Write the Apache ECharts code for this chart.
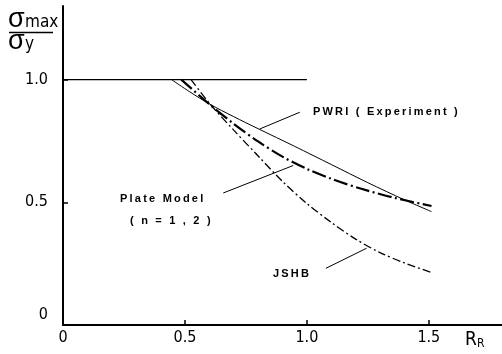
<!DOCTYPE html>
<html>
<head>
<meta charset="utf-8">
<script src="https://cdn.jsdelivr.net/npm/echarts@6/dist/echarts.min.js"></script>
<style>
  html, body { margin: 0; padding: 0; background: #fff; }
  #chart { width: 502px; height: 354px; }
</style>
</head>
<body>
<div id="chart"></div>
<script>
// Normalised maximum stress sigma_max / sigma_y against the parameter R_R.

// Tick labels
const xTickLabels = ['0', '0.5', '1.0', '1.5'];
const yTickLabels = ['0', '0.5', '1.0'];

// Plateau at sigma_max / sigma_y = 1
const plateauX = [0, 1.0];
const plateauY = [1.0, 1.0];

// PWRI (Experiment)
const pwriX = [0.445, 0.52, 0.60, 0.70, 0.80, 0.95, 1.10, 1.25, 1.40, 1.511];
const pwriY = [1.000, 0.950, 0.901, 0.849, 0.800, 0.728, 0.654, 0.580, 0.510, 0.462];

// Plate Model (n = 1, 2)
const plateX = [0.485, 0.60, 0.70, 0.80, 0.90, 1.00, 1.10, 1.22, 1.36, 1.511];
const plateY = [1.000, 0.900, 0.820, 0.748, 0.686, 0.636, 0.596, 0.556, 0.518, 0.485];

// JSHB
const jshbX = [0.525, 0.60, 0.70, 0.80, 0.90, 1.00, 1.10, 1.20, 1.30, 1.40, 1.511];
const jshbY = [1.000, 0.904, 0.794, 0.689, 0.585, 0.495, 0.418, 0.350, 0.295, 0.253, 0.214];

// Callout labels, anchored in data units: text position, leader start, leader tip
const callouts = [
  { lines: ['PWRI ( Experiment )'], at: [1.025, 0.869], from: [0.971, 0.867], to: [0.807, 0.799] },
  { lines: ['Plate Model', '( n = 1 , 2 )'], at: [0.234, 0.514], indent: [0, 10], gap: 22, from: [0.657, 0.538], to: [0.944, 0.650] },
  { lines: ['JSHB'], at: [0.861, 0.210], from: [1.078, 0.231], to: [1.245, 0.313] }
];

const FONT = '"Liberation Sans Narrow", "DejaVu Sans Condensed", "Liberation Sans", sans-serif';
const LABEL_FONT = '"Liberation Sans", Arial, sans-serif';

const zip = (xs, ys) => xs.map((x, i) => [x, ys[i]]);
// spread letters apart with thin spaces
const spaced = s => s.split('').join('\u2009');

const chart = echarts.init(document.getElementById('chart'), null, { renderer: 'canvas' });

const lineSeries = (name, xs, ys, style, smooth) => ({
  name,
  type: 'line',
  data: zip(xs, ys),
  showSymbol: false,
  symbol: 'none',
  smooth: smooth,
  silent: true,
  animation: false,
  lineStyle: Object.assign({ color: '#000', cap: 'butt' }, style)
});

chart.setOption({
  animation: false,
  backgroundColor: '#fff',
  grid: { left: 63, right: 0, top: 6, bottom: 29, outerBoundsMode: 'none', containLabel: false },
  xAxis: {
    type: 'value',
    min: 0,
    max: 1.8,
    interval: 0.5,
    axisLine: { show: true, lineStyle: { color: '#000', width: 2 } },
    axisTick: { show: true, inside: true, length: 5, lineStyle: { color: '#000', width: 1.5 } },
    splitLine: { show: false },
    axisLabel: {
      color: '#000',
      fontFamily: FONT,
      fontSize: 16,
      margin: 5,
      showMaxLabel: false,
      formatter: v => {
        const i = Math.round(v / 0.5);
        return Math.abs(v - i * 0.5) < 1e-6 && i < xTickLabels.length ? xTickLabels[i] : '';
      }
    }
  },
  yAxis: {
    type: 'value',
    min: 0,
    max: 1.3,
    interval: 0.5,
    axisLine: { show: true, lineStyle: { color: '#000', width: 2 } },
    axisTick: { show: true, inside: true, length: 5, lineStyle: { color: '#000', width: 1.5 } },
    splitLine: { show: false },
    axisLabel: {
      color: '#000',
      fontFamily: FONT,
      fontSize: 16,
      margin: 15,
      showMaxLabel: false,
      formatter: v => {
        const i = Math.round(v / 0.5);
        if (i >= yTickLabels.length || Math.abs(v - i * 0.5) > 1e-6) return '';
        return i === 0 ? '{z|' + yTickLabels[0] + '}' : yTickLabels[i];
      },
      rich: { z: { fontFamily: FONT, fontSize: 16, color: '#000', padding: [0, 0, 20, 0] } }
    }
  },
  series: [
    lineSeries('plateau', plateauX, plateauY, { width: 1.2, type: 'solid' }, false),
    lineSeries('PWRI (Experiment)', pwriX, pwriY, { width: 1, type: 'solid' }, 0.3),
    lineSeries('Plate Model (n = 1, 2)', plateX, plateY, { width: 2.2, type: [14, 3.5, 2, 3.5] }, 0.3),
    lineSeries('JSHB', jshbX, jshbY, { width: 1.3, type: [8, 3, 2, 3] }, 0.3)
  ]
});

// Axis titles and callouts
function drawLabels() {
  const px = p => chart.convertToPixel({ gridIndex: 0 }, p);
  const elements = [];

  // y-axis title: sigma_max over sigma_y
  const sig = { fill: '#000', font: '27px ' + LABEL_FONT, textVerticalAlign: 'bottom' };
  const sub = { fill: '#000', font: '17px ' + FONT, textVerticalAlign: 'bottom' };
  elements.push({ type: 'text', x: 8, y: 33, style: Object.assign({ text: 'σ' }, sig), silent: true });
  elements.push({ type: 'text', x: 25, y: 31, style: Object.assign({ text: 'max' }, sub), silent: true });
  elements.push({ type: 'line', shape: { x1: 9, y1: 32.5, x2: 53, y2: 32.5 }, style: { stroke: '#000', lineWidth: 1.5 }, silent: true });
  elements.push({ type: 'text', x: 8, y: 55, style: Object.assign({ text: 'σ' }, sig), silent: true });
  elements.push({ type: 'text', x: 25, y: 53, style: Object.assign({ text: 'y' }, sub), silent: true });

  // x-axis title: R_R
  elements.push({ type: 'text', x: 465, y: 350, style: { text: 'R', fill: '#000', font: '19px ' + FONT, textVerticalAlign: 'bottom' }, silent: true });
  elements.push({ type: 'text', x: 477, y: 350, style: { text: 'R', fill: '#000', font: '12px ' + FONT, textVerticalAlign: 'bottom' }, silent: true });

  callouts.forEach(c => {
    const a = px(c.at);
    c.lines.forEach((t, k) => {
      elements.push({
        type: 'text',
        x: a[0] + (c.indent ? c.indent[k] : 0),
        y: a[1] + k * (c.gap || 0),
        style: { text: spaced(t), fill: '#000', font: 'bold 11px ' + LABEL_FONT, textVerticalAlign: 'middle' },
        silent: true
      });
    });
    const f = px(c.from), t = px(c.to);
    elements.push({ type: 'line', shape: { x1: f[0], y1: f[1], x2: t[0], y2: t[1] }, style: { stroke: '#000', lineWidth: 1 }, silent: true });
  });

  chart.setOption({ graphic: { elements } });
}
drawLabels();
</script>
</body>
</html>
